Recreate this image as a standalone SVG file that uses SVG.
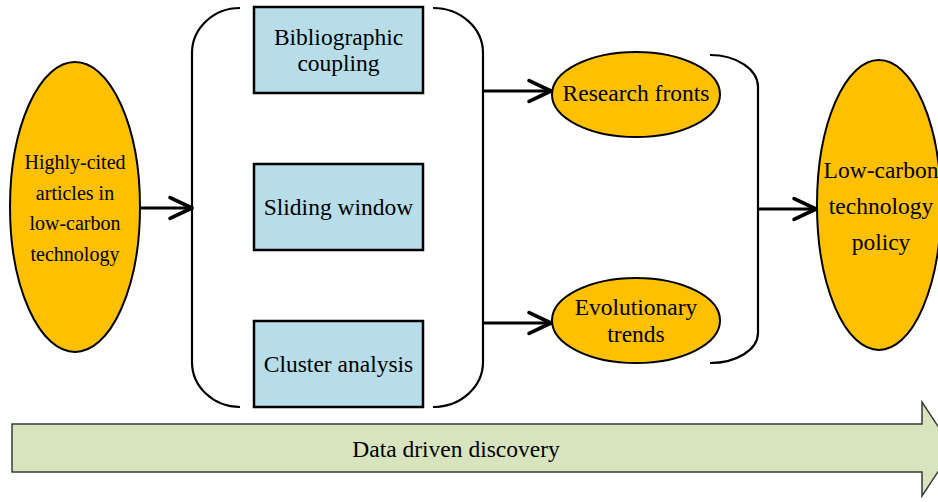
<svg xmlns="http://www.w3.org/2000/svg" width="938" height="502" viewBox="0 0 938 502">
<style>
text{font-family:"Liberation Serif","Times New Roman",serif;fill:#000;text-anchor:middle}
.big{font-size:23.5px}
.small{font-size:20px}
.ell{fill:#ffc000;stroke:#000;stroke-width:2}
.box{fill:#b7dde8;stroke:#000;stroke-width:2.5}
.br{fill:none;stroke:#000;stroke-width:2.2}
.con{fill:none;stroke:#000;stroke-width:3.2}
</style>
<defs>
<marker id="ah" markerUnits="userSpaceOnUse" markerWidth="30" markerHeight="30" viewBox="-22 -12 26 24" refX="0" refY="0" orient="auto">
<path d="M-19,-9 L0,0 L-19,9" fill="none" stroke="#000" stroke-width="3.2" stroke-linecap="round" stroke-linejoin="round"/>
</marker>
</defs>
<rect width="938" height="502" fill="#fff"/>
<g id="discovery">
<polygon points="12,424 922,424 922,402 953,449 922,496 922,472 12,472" fill="#d7e4bd" stroke="#3a3a3a" stroke-width="1.5"/>
<text class="big" x="456" y="457">Data driven discovery</text>
</g>
<g id="brackets">
<path class="br" d="M240,8 A48,45 0 0 0 192,53 L192,362 A48,45 0 0 0 240,407"/>
<path class="br" d="M433,8 A50,45 0 0 1 483,53 L483,362 A50,45 0 0 1 433,407"/>
<path class="br" d="M710,55 A48,32 0 0 1 758,87 L758,333 A48,30 0 0 1 710,363"/>
</g>
<g id="connectors">
<path class="con" d="M140,208 L192,208" marker-end="url(#ah)"/>
<path class="con" d="M483,91 L551,91" marker-end="url(#ah)"/>
<path class="con" d="M483,323 L551,323" marker-end="url(#ah)"/>
<path class="con" d="M758,209 L816,209" marker-end="url(#ah)"/>
</g>
<g id="highly-cited">
<ellipse class="ell" cx="75" cy="207" rx="65" ry="145"/>
<text class="small" x="75" y="169">Highly-cited</text>
<text class="small" x="75" y="200">articles in</text>
<text class="small" x="75" y="230">low-carbon</text>
<text class="small" x="75" y="261">technology</text>
</g>
<g id="bibliographic">
<rect class="box" x="254" y="7" width="169" height="86"/>
<text class="big" x="338.5" y="45">Bibliographic</text>
<text class="big" x="338.5" y="71">coupling</text>
</g>
<g id="sliding">
<rect class="box" x="254" y="164" width="169" height="86"/>
<text class="big" x="338.5" y="215">Sliding window</text>
</g>
<g id="cluster">
<rect class="box" x="254" y="321" width="169" height="86"/>
<text class="big" x="338.5" y="372">Cluster analysis</text>
</g>
<g id="research-fronts">
<ellipse class="ell" cx="636" cy="94.5" rx="84" ry="42.5"/>
<text class="big" x="636" y="101">Research fronts</text>
</g>
<g id="evolutionary">
<ellipse class="ell" cx="636" cy="320.5" rx="84" ry="42.5"/>
<text class="big" x="636" y="315">Evolutionary</text>
<text class="big" x="636" y="342">trends</text>
</g>
<g id="policy">
<ellipse class="ell" cx="879" cy="205" rx="62" ry="145"/>
<text class="big" x="881" y="178">Low-carbon</text>
<text class="big" x="881" y="214">technology</text>
<text class="big" x="881" y="250">policy</text>
</g>
</svg>
